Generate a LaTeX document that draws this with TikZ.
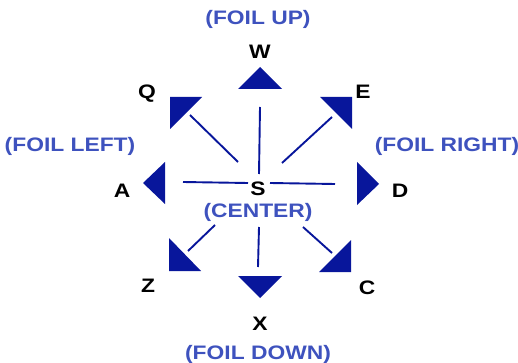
\documentclass[tikz,border=0pt]{standalone}
\usepackage{fontspec}
\setmainfont{Liberation Sans}
\newfontfamily\widesans[FakeStretch=1.17]{Liberation Sans}
\definecolor{padblue}{RGB}{8,22,155}
\definecolor{foilblue}{RGB}{62,82,190}
\tikzset{
  key/.style={font=\widesans\bfseries\fontsize{19.5}{19.5}\selectfont, text=black,
    inner sep=0pt, text height=14pt, text depth=0pt},
  foil/.style={key, text=foilblue},
  spoke/.style={draw=padblue, line width=1.9pt},
  pad/.style={fill=padblue}
}
\begin{document}
\begin{tikzpicture}[x=1pt,y=-1pt]
      \useasboundingbox (0,0) rectangle (518,363);
      \draw
        (258,18) node[foil] (up){(FOIL UP)}
        (70,145) node[foil] (left){(FOIL LEFT)}
        (447,145) node[foil] (right){(FOIL RIGHT)}
        (258,210) node[foil] (center){(CENTER)}
        (258,352) node[foil] (down){(FOIL DOWN)};
      \draw
        (258,188) node[key] (S){S}
        (260,52) node[key] (W){W}
        (147,92) node[key] (Q){Q}
        (363,92) node[key] (E){E}
        (122,190) node[key] (A){A}
        (400,190) node[key] (D){D}
        (148,285) node[key] (Z){Z}
        (260,323) node[key] (X){X}
        (367,287) node[key] (C){C};
      % pads
      \fill[pad] (260,67) -- (238,89) -- (282,89) -- cycle;
      \fill[pad] (170,97) -- (202,97) -- (170,129) -- cycle;
      \fill[pad] (320,97) -- (352,97) -- (352,129) -- cycle;
      \fill[pad] (143,183) -- (165,162) -- (165,204) -- cycle;
      \fill[pad] (357,162) -- (357,205) -- (379,184) -- cycle;
      \fill[pad] (169,238) -- (169,271) -- (201,271) -- cycle;
      \fill[pad] (238,276) -- (282,276) -- (260,298) -- cycle;
      \fill[pad] (319,272) -- (351,272) -- (351,240) -- cycle;
      % spoke ends
      \coordinate (q0) at (238,162); \coordinate (q1) at (190,115);
      \coordinate (w0) at (259,174); \coordinate (w1) at (260,107);
      \coordinate (e0) at (282,163); \coordinate (e1) at (332,117);
      \coordinate (a0) at (248,183); \coordinate (a1) at (183,182);
      \coordinate (d0) at (270,183); \coordinate (d1) at (335,184);
      \coordinate (z0) at (215,225); \coordinate (z1) at (188,251);
      \coordinate (x0) at (259,227); \coordinate (x1) at (258,267);
      \coordinate (c0) at (303,227); \coordinate (c1) at (332,253);
      \begin{scope}[spoke]
        \draw (q0) to (q1);
        \draw (w0) to (w1);
        \draw (e0) to (e1);
        \draw (a0) to (a1);
        \draw (d0) to (d1);
        \draw (z0) to (z1);
        \draw (x0) to (x1);
        \draw (c0) to (c1);
      \end{scope}
    \end{tikzpicture}
\end{document}
